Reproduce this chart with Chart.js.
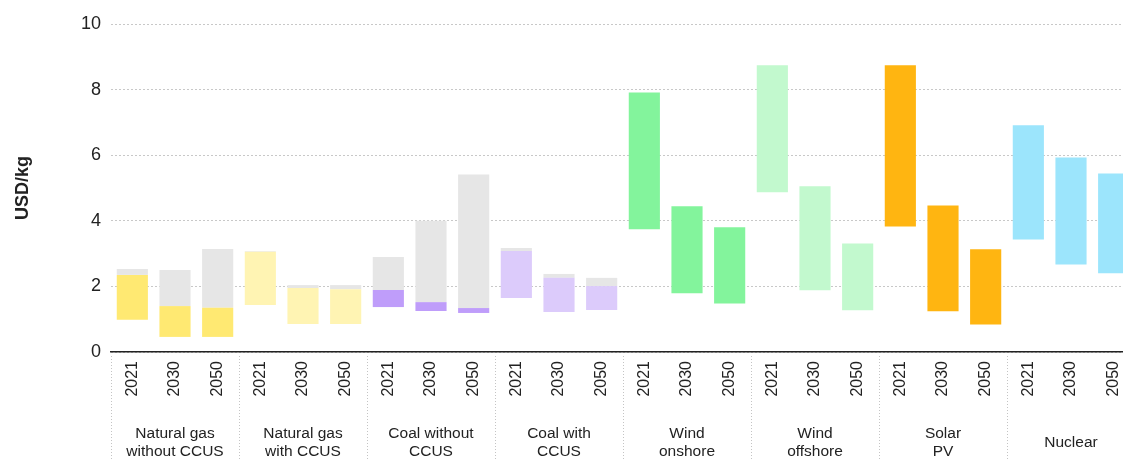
<!DOCTYPE html>
<html>
<head>
<meta charset="utf-8">
<script src="https://cdn.jsdelivr.net/npm/chart.js@4"></script>
<style>
  html, body { margin: 0; padding: 0; background: #fff; overflow: hidden; }
  #wrap { width: 1135px; height: 459px; }
</style>
</head>
<body>
<div id="wrap"><canvas id="chart-costes"></canvas></div>
<script>
// grupos y años
const grupos = [
  ["Natural gas", "without CCUS"],
  ["Natural gas", "with CCUS"],
  ["Coal without", "CCUS"],
  ["Coal with", "CCUS"],
  ["Wind", "onshore"],
  ["Wind", "offshore"],
  ["Solar", "PV"],
  ["Nuclear"],
];
const anios = ["2021", "2030", "2050"];

// rango de coste (USD/kg), 3 años por grupo
const costeMin = [
  0.98, 0.46, 0.46,
  1.43, 0.85, 0.85,
  1.37, 1.25, 1.19,
  1.65, 1.22, 1.28,
  3.74, 1.79, 1.48,
  4.87, 1.88, 1.27,
  3.83, 1.24, 0.84,
  3.43, 2.67, 2.40,
];
const costeMax = [
  2.35, 1.40, 1.35,
  3.06, 1.95, 1.91,
  1.89, 1.52, 1.34,
  3.08, 2.26, 2.01,
  7.91, 4.44, 3.80,
  8.74, 5.05, 3.31,
  8.74, 4.47, 3.13,
  6.91, 5.93, 5.44,
];
// parte gris (con precio de CO2), solo fosiles
const costeCO2 = [
  2.53, 2.50, 3.14,
  3.08, 2.04, 2.04,
  2.90, 4.00, 5.41,
  3.17, 2.38, 2.26,
  null, null, null,
  null, null, null,
  null, null, null,
  null, null, null,
];
const ticksY = [0, 2, 4, 6, 8, 10];

const coloresGrupo = [
  "#ffe972", "#fff4b3", "#bf9dfa", "#dccbfb",
  "#83f49c", "#c2f9ce", "#ffb511", "#9ce5fc",
];

const etiquetas = [];
const colores = [];
grupos.forEach((g, i) => {
  anios.forEach((a) => {
    etiquetas.push(a);
    colores.push(coloresGrupo[i]);
  });
});

const dataRango = costeMin.map((v, i) => [v, costeMax[i]]);
const dataCO2 = costeCO2.map((v, i) => (v === null ? null : [costeMax[i], v]));

const fuente = "'Liberation Sans', Arial, sans-serif";

const pluginGrupos = {
  id: "grupos",
  afterDraw(chart) {
    const ctx = chart.ctx;
    const x = chart.scales.x;
    const medio = (x.getPixelForValue(1) - x.getPixelForValue(0)) / 2;
    ctx.save();
    grupos.forEach((g, i) => {
      const izq = x.getPixelForValue(i * 3) - medio;
      ctx.strokeStyle = "#c4c4c4";
      ctx.lineWidth = 1;
      ctx.setLineDash([1, 2]);
      ctx.beginPath();
      ctx.moveTo(Math.round(izq) + 0.5, x.top + 4);
      ctx.lineTo(Math.round(izq) + 0.5, chart.height);
      ctx.stroke();

      ctx.setLineDash([]);
      ctx.fillStyle = "#222";
      ctx.font = "15.5px " + fuente;
      ctx.textAlign = "center";
      ctx.textBaseline = "middle";
      const cx = x.getPixelForValue(i * 3 + 1);
      if (g.length === 1) {
        ctx.fillText(g[0], cx, x.top + 91);
      } else {
        ctx.fillText(g[0], cx, x.top + 82);
        ctx.fillText(g[1], cx, x.top + 100);
      }
    });
    ctx.restore();
  },
};

const configuracion = {
  type: "bar",
  data: {
    labels: etiquetas,
    datasets: [
      {
        label: "Rango",
        data: dataRango,
        backgroundColor: colores,
        grouped: false,
        barPercentage: 0.73,
        categoryPercentage: 1,
        order: 1,
      },
      {
        label: "CO2",
        data: dataCO2,
        backgroundColor: "#e6e6e6",
        grouped: false,
        barPercentage: 0.73,
        categoryPercentage: 1,
        order: 2,
      },
    ],
  },
  options: {
    responsive: true,
    maintainAspectRatio: false,
    animation: false,
    layout: { padding: { top: 24, right: 0, left: 0, bottom: 0 } },
    plugins: {
      legend: { display: false },
      tooltip: { enabled: false },
    },
    scales: {
      x: {
        grid: { display: false },
        border: { display: true, color: "#222", width: 1.5 },
        ticks: {
          color: "#222",
          font: { family: fuente, size: 16 },
          minRotation: 90,
          maxRotation: 90,
          padding: 1,
        },
        afterFit(s) { s.height = 107; },
      },
      y: {
        min: 0,
        max: 10,
        afterBuildTicks(s) { s.ticks = ticksY.map((v) => ({ value: v })); },
        grid: { color: "#c8c8c8", lineWidth: 1, drawTicks: false },
        border: { display: false, dash: [2, 2] },
        ticks: {
          color: "#222",
          font: { family: fuente, size: 18 },
          padding: 10,
        },
        title: {
          display: true,
          text: "USD/kg",
          color: "#222",
          font: { family: fuente, size: 18, weight: "bold" },
          padding: { top: 12, bottom: 40 },
        },
        afterFit(s) { s.width = 111; },
      },
    },
  },
  plugins: [pluginGrupos],
};

const chartCostes = new Chart(document.querySelector("#chart-costes"), configuracion);
</script>
</body>
</html>
